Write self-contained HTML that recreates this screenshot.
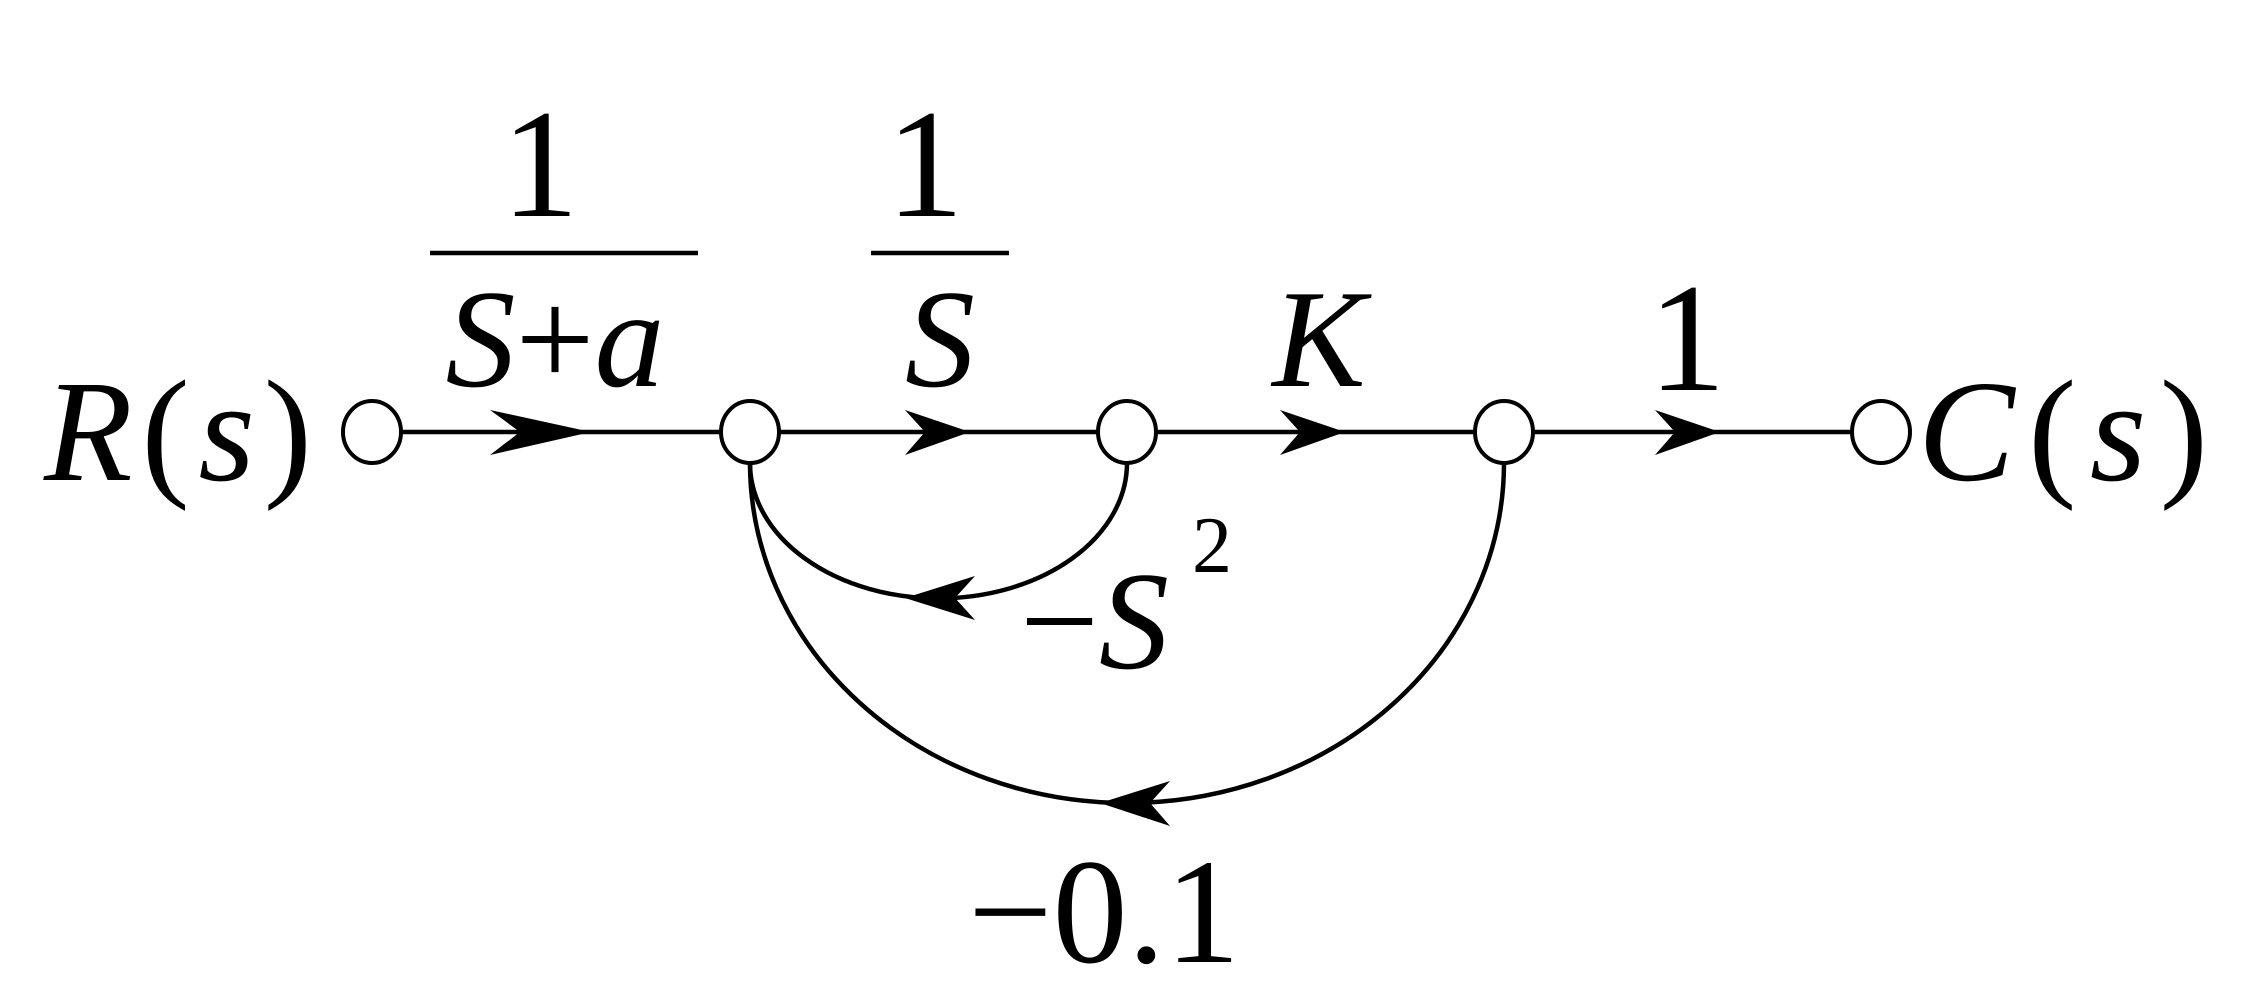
<!DOCTYPE html>
<html><head><style>
html,body{margin:0;padding:0;background:#fff;}
svg{display:block}
text{font-family:"Liberation Serif",serif;fill:#000}
</style></head><body>
<svg width="2260" height="999" viewBox="0 0 2260 999" xmlns="http://www.w3.org/2000/svg">
<g stroke="#000" stroke-width="4.5" fill="none">
<line x1="402" y1="432" x2="1851" y2="432"/>
<path d="M750,463 A188,135 0 0 0 1127,463"/>
<path d="M750,463 A377,340 0 0 0 1504,463"/>
<line x1="430" y1="253" x2="698" y2="253"/>
<line x1="871" y1="253" x2="1009" y2="253"/>
</g>
<g fill="#000">
<polygon points="591,432 490,410 520,432 490,455"/>
<polygon points="970,432 905,410 925,432 905,455"/>
<polygon points="1345,432 1280,410 1300,432 1280,455"/>
<polygon points="1720,432 1655,410 1675,432 1655,455"/>
<polygon points="905,598 975,576 955,598 975,620"/>
<polygon points="1100,803 1170,781 1150,803 1170,826"/>
</g>
<g stroke="#000" stroke-width="4" fill="#fff">
<ellipse cx="372" cy="432" rx="29" ry="31"/>
<ellipse cx="750" cy="432" rx="29" ry="31"/>
<ellipse cx="1127" cy="432" rx="29" ry="31"/>
<ellipse cx="1504" cy="432" rx="29" ry="31"/>
<ellipse cx="1881" cy="432" rx="29" ry="31"/>
</g>
<text x="540" y="216" font-size="155" text-anchor="middle">1</text>
<text x="555" y="386" font-size="140" text-anchor="middle"><tspan font-style="italic">S</tspan>+<tspan font-style="italic">a</tspan></text>
<text x="925" y="216" font-size="155" text-anchor="middle">1</text>
<text x="940" y="386" font-size="140" text-anchor="middle" font-style="italic">S</text>
<text x="1319" y="386" font-size="140" text-anchor="middle" font-style="italic">K</text>
<text x="1687" y="390" font-size="155" text-anchor="middle">1</text>
<text x="44" y="480" font-size="145" textLength="268" lengthAdjust="spacing"><tspan font-style="italic">R</tspan>(<tspan font-style="italic">s</tspan>)</text>
<text x="1918" y="480" font-size="145" textLength="290" lengthAdjust="spacing"><tspan font-style="italic">C</tspan>(<tspan font-style="italic">s</tspan>)</text>
<text x="1020" y="668" font-size="140">−<tspan font-style="italic">S</tspan></text>
<text x="1192" y="572" font-size="80">2</text>
<text x="968" y="962" font-size="150">−0.1</text>
</svg>
</body></html>
